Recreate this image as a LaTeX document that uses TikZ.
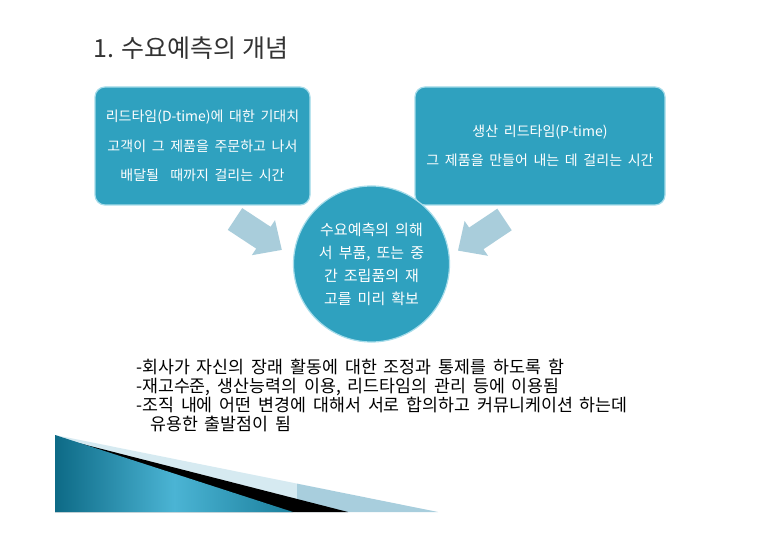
\documentclass[tikz,border=0pt]{standalone}
\usepackage{fontspec}
\setmainfont{Noto Sans CJK KR}
\newfontfamily\widefont[WordSpace=2]{Noto Sans CJK KR}
\newfontfamily\bodyfont[WordSpace=1.8]{Noto Sans CJK KR}
\definecolor{teal1}{HTML}{2FA1BF}
\definecolor{boxedge}{HTML}{A6DCEA}
\definecolor{arrowc}{HTML}{A9CDDB}
\definecolor{titlec}{HTML}{333333}
\definecolor{palec}{HTML}{D6EAF1}
\definecolor{midc}{HTML}{A8CEDD}
\definecolor{darkb}{HTML}{0D6A86}
\definecolor{lightb}{HTML}{4BB4D4}
\definecolor{endb}{HTML}{1B7F9C}
\begin{document}
\begin{tikzpicture}[x=1pt,y=-1pt,
  box/.style={draw=boxedge, line width=1.2pt, fill=teal1, rounded corners=10pt,
    text=white, align=center, font=\widefont\fontsize{14}{29.5}\selectfont, inner sep=0pt},
  hub/.style={circle, draw=boxedge, line width=1.2pt, fill=teal1, text=white,
    align=center, font=\widefont\fontsize{15}{23}\selectfont, inner sep=0pt},
  blockarrow/.style={fill=arrowc},
  bodytext/.style={align=left, anchor=west, font=\bodyfont\fontsize{17.3}{19}\selectfont, inner sep=0pt},
  titletext/.style={anchor=west, font=\fontsize{25}{28}\selectfont, text=titlec, inner sep=0pt}]
\fill[white] (0,0) rectangle (760,537);
\useasboundingbox (0,0) rectangle (760,537);

\node[titletext] (title) at (93,48) {1. 수요예측의 개념};

\node[box, minimum width=215pt, minimum height=118pt] (left) at (202.5,146)
  {리드타임(D-time)에 대한 기대치\\고객이 그 제품을 주문하고 나서\\배달될\ \ 때까지 걸리는 시간};
\node[box, minimum width=250pt, minimum height=118pt] (right) at (540,146)
  {생산 리드타임(P-time)\\그 제품을 만들어 내는 데 걸리는 시간};

\fill[blockarrow] (242.2,208.1) -- (270.6,226.8) -- (275.0,220.2) -- (281.8,249.9)
  -- (251.8,255.2) -- (256.2,248.6) -- (227.8,229.9) -- cycle;
\fill[blockarrow] (497.3,208.7) -- (469.1,227.6) -- (464.6,221.0) -- (458.0,250.6)
  -- (488.0,255.8) -- (483.5,249.2) -- (511.7,230.3) -- cycle;

\node[hub, minimum size=156pt] (hub) at (371.5,264)
  {수요예측의 의해\\서 부품, 또는 중\\간 조립품의 재\\고를 미리 확보};

\node[bodytext] (notes) at (136,395.5)
  {-회사가 자신의 장래 활동에 대한 조정과 통제를 하도록 함\\
   -재고수준, 생산능력의 이용, 리드타임의 관리 등에 이용됨\\
   -조직 내에 어떤 변경에 대해서 서로 합의하고 커뮤니케이션 하는데\\
   \hspace*{14pt}유용한 출발점이 됨};

% bottom-left decoration
\fill[palec] (55,435) -- (297,483.6) -- (297,512) -- (55,512) -- cycle;
\fill[midc] (297,483.6) -- (438,512) -- (297,512) -- cycle;
\fill[black] (55,437) -- (348,512) -- (55,512) -- cycle;
\shade[left color=darkb, right color=endb, middle color=lightb]
  (55,435) -- (293,512) -- (55,512) -- cycle;
\end{tikzpicture}
\end{document}
